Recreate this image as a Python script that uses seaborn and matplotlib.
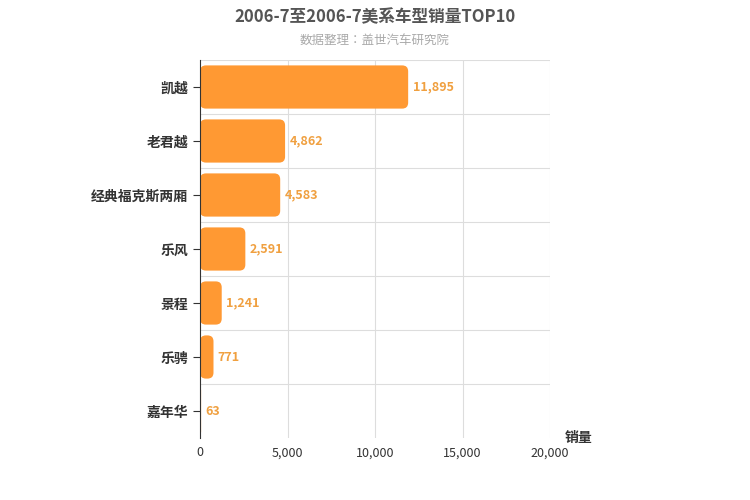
import matplotlib
matplotlib.use("Agg")
import matplotlib.pyplot as plt
import seaborn as sns
import pandas as pd
from matplotlib.patches import FancyBboxPatch

plt.rcParams["font.family"] = ["Noto Sans CJK SC", "Noto Sans CJK JP", "DejaVu Sans"]

models = ["凯越", "老君越", "经典福克斯两厢", "乐风", "景程", "乐骋", "嘉年华"]
sales = [11895, 4862, 4583, 2591, 1241, 771, 63]
xticks = [0, 5000, 10000, 15000, 20000]

df = pd.DataFrame({"model": models, "sales": sales})
color = "#FF9933"

fig = plt.figure(figsize=(7.5, 5), dpi=100)
ax = fig.add_axes([200 / 750, 62 / 500, 350 / 750, 378 / 500])
sns.barplot(data=df, x="sales", y="model", color=color, width=0.8, ax=ax, orient="h")

# swap plain bars for rounded ones
aspect = 0.11 / 340
for p in list(ax.patches):
    x0, y0, w, h = p.get_x(), p.get_y(), p.get_width(), p.get_height()
    p.remove()
    r = min(340, w / 2)
    rb = FancyBboxPatch((x0, y0), w, h, boxstyle=f"round,pad=0,rounding_size={r}",
                        mutation_aspect=aspect, facecolor=color, edgecolor="none", zorder=2)
    ax.add_patch(rb)
    ax.text(w + 250, y0 + h / 2, f"{w:,.0f}", va="center", ha="left",
            color="#F0A040", fontsize=9, fontweight="bold")

ax.set_xlim(0, 20000)
ax.set_ylim(len(models) - 0.5, -0.5)
ax.set_xticks(xticks)
ax.set_xticklabels([f"{t:,}" for t in xticks], fontsize=9, color="#333333")
ax.set_yticks(range(len(models)))
ax.set_yticklabels(models, fontsize=10, fontweight="bold", color="#333333")
ax.set_xlabel("")
ax.set_ylabel("")
ax.grid(False)
for t in xticks[1:]:
    ax.axvline(t, color="#DDDDDD", lw=0.8, zorder=0)
for i in range(len(models)):
    ax.axhline(i - 0.5, color="#DDDDDD", lw=0.8, zorder=0)
for s in ["top", "right", "bottom"]:
    ax.spines[s].set_visible(False)
ax.spines["left"].set_color("#333333")
ax.tick_params(axis="y", length=5, color="#333333")
ax.tick_params(axis="x", length=0, pad=6)

fig.text(0.5, 0.965, "2006-7至2006-7美系车型销量TOP10", ha="center", va="center",
         fontsize=12, fontweight="bold", color="#555555")
fig.text(0.5, 0.92, "数据整理：盖世汽车研究院", ha="center", va="center",
         fontsize=9, color="#AAAAAA")
fig.text(565 / 750, 1 - 438 / 500, "销量", ha="left", va="center",
         fontsize=10, fontweight="bold", color="#333333")

fig.savefig("out.png", dpi=100)
